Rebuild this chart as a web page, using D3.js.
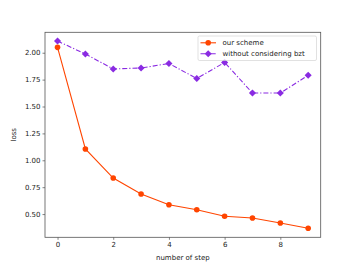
<!DOCTYPE html>
<html>
<head>
<meta charset="utf-8">
<script src="https://cdn.jsdelivr.net/npm/d3@7"></script>
<style>
  body { margin: 0; background: #fff; }
  text { font-family: "DejaVu Sans", sans-serif; }
</style>
</head>
<body>
<div id="chart"></div>
<script>
// data
var steps = [0, 1, 2, 3, 4, 5, 6, 7, 8, 9];
var ourScheme = [2.05, 1.105, 0.835, 0.687, 0.587, 0.54, 0.48, 0.464, 0.417, 0.368];
var withoutBzt = [2.109, 1.988, 1.849, 1.858, 1.90, 1.76, 1.91, 1.625, 1.625, 1.79];
var xTicks = [0, 2, 4, 6, 8];
var yTicks = [0.50, 0.75, 1.00, 1.25, 1.50, 1.75, 2.00];
var seriesNames = ['our scheme', 'without considering bzt'];

var width = 356,
  height = 267,
  padLeft = 45,
  padTop = 32.3,
  padRight = 320.7,
  padBottom = 237.3;

var svg = d3.select('#chart')
  .append('svg')
  .attr('width', width)
  .attr('height', height);

var x = d3.scaleLinear().domain([-0.45, 9.45]).range([padLeft, padRight]);
var y = d3.scaleLinear().domain([0.284, 2.19]).range([padBottom, padTop]);

// axes
var xAxis = svg.append('g')
  .attr('transform', 'translate(0,' + padBottom + ')')
  .call(d3.axisBottom(x).tickValues(xTicks).tickFormat(d3.format('d')).tickSize(2.5).tickPadding(2));

var yAxis = svg.append('g')
  .attr('transform', 'translate(' + padLeft + ',0)')
  .call(d3.axisLeft(y).tickValues(yTicks).tickFormat(d3.format('.2f')).tickSize(2.5).tickPadding(2));

[xAxis, yAxis].forEach(function (a) {
  a.select('.domain').remove();
  a.selectAll('line').attr('stroke', '#333').attr('stroke-width', 0.6);
  a.selectAll('text').attr('font-size', '7px').attr('fill', '#222')
    .attr('font-family', '"DejaVu Sans", sans-serif');
});

// frame
svg.append('rect')
  .attr('x', padLeft)
  .attr('y', padTop)
  .attr('width', padRight - padLeft)
  .attr('height', padBottom - padTop)
  .attr('fill', 'none')
  .attr('stroke', '#555')
  .attr('stroke-width', 0.8);

// lines
var line = function (vals) {
  return d3.line()
    .x(function (d, i) { return x(steps[i]); })
    .y(function (d) { return y(d); })(vals);
};

svg.append('path')
  .attr('d', line(withoutBzt))
  .attr('fill', 'none')
  .attr('stroke', '#8a2be2')
  .attr('stroke-width', 1.1)
  .attr('stroke-dasharray', '5,2,1.2,2');

svg.append('path')
  .attr('d', line(ourScheme))
  .attr('fill', 'none')
  .attr('stroke', '#ff4500')
  .attr('stroke-width', 1.1);

var diamond = d3.symbol().type(d3.symbolDiamond2).size(32);

svg.append('g').selectAll('path')
  .data(withoutBzt)
  .enter()
  .append('path')
  .attr('d', diamond)
  .attr('transform', function (d, i) { return 'translate(' + x(steps[i]) + ',' + y(d) + ')'; })
  .attr('fill', '#8a2be2');

svg.append('g').selectAll('circle')
  .data(ourScheme)
  .enter()
  .append('circle')
  .attr('cx', function (d, i) { return x(steps[i]); })
  .attr('cy', function (d) { return y(d); })
  .attr('r', 2.8)
  .attr('fill', '#ff4500');

// legend
var legend = svg.append('g').attr('transform', 'translate(198,36)');
legend.append('rect')
  .attr('width', 118.5)
  .attr('height', 24.5)
  .attr('rx', 1.5)
  .attr('fill', '#fff')
  .attr('fill-opacity', 0.8)
  .attr('stroke', '#ccc')
  .attr('stroke-width', 0.6);

seriesNames.forEach(function (name, i) {
  var ly = 6.8 + i * 11;
  var col = i === 0 ? '#ff4500' : '#8a2be2';
  legend.append('line')
    .attr('x1', 2.5).attr('x2', 18)
    .attr('y1', ly).attr('y2', ly)
    .attr('stroke', col)
    .attr('stroke-width', 1.1)
    .attr('stroke-dasharray', i === 0 ? null : '5,2,1.2,2');
  if (i === 0) {
    legend.append('circle').attr('cx', 10.2).attr('cy', ly).attr('r', 2.8).attr('fill', col);
  } else {
    legend.append('path').attr('d', diamond)
      .attr('transform', 'translate(10.2,' + ly + ')').attr('fill', col);
  }
  legend.append('text')
    .attr('x', 24.5)
    .attr('y', ly + 2.5)
    .attr('font-size', '7px')
    .attr('fill', '#222')
    .text(name);
});

// axis labels
svg.append('text')
  .attr('x', (padLeft + padRight) / 2)
  .attr('y', 260)
  .attr('text-anchor', 'middle')
  .attr('font-size', '7px')
  .attr('fill', '#222')
  .text('number of step');

svg.append('text')
  .attr('transform', 'translate(16,' + (padTop + padBottom) / 2 + ') rotate(-90)')
  .attr('text-anchor', 'middle')
  .attr('font-size', '7px')
  .attr('fill', '#222')
  .text('loss');
</script>
</body>
</html>
